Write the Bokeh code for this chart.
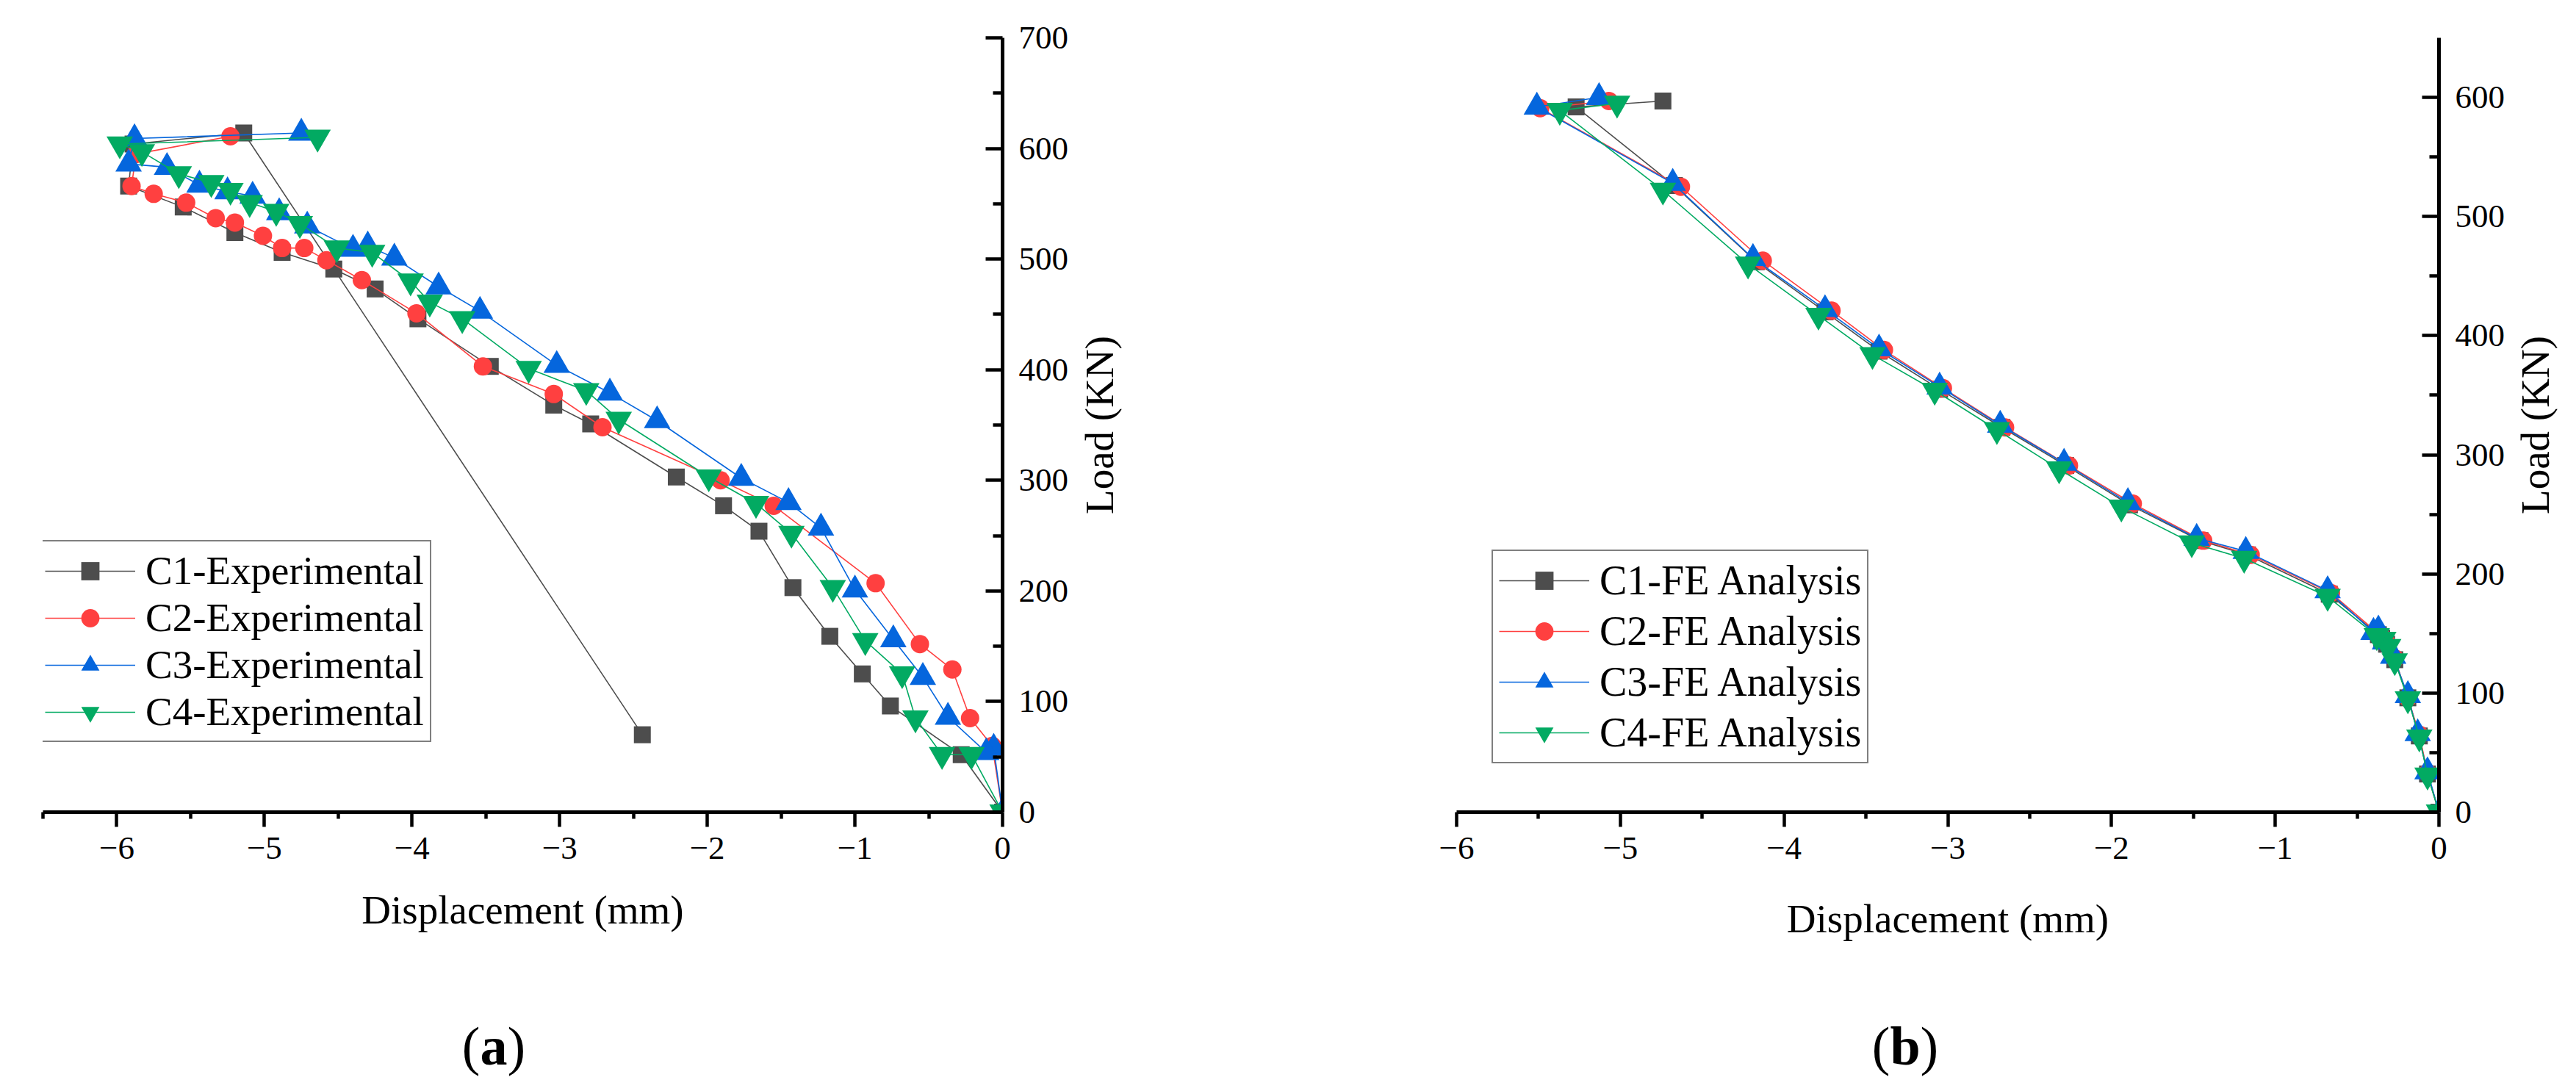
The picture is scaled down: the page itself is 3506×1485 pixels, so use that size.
from bokeh.plotting import figure
from bokeh.models import Range1d, FixedTicker, Legend, LegendItem, Div
from bokeh.layouts import row, column
from bokeh.embed import file_html
from bokeh.resources import INLINE

# ---------------- data ----------------
series_names_exp = ["C1-Experimental", "C2-Experimental", "C3-Experimental", "C4-Experimental"]
series_names_fe = ["C1-FE Analysis", "C2-FE Analysis", "C3-FE Analysis", "C4-FE Analysis"]

exp_c1_x = [0, -0.28, -0.76, -0.95, -1.17, -1.42, -1.65, -1.89, -2.21, -2.79, -3.04, -3.47, -3.96, -4.25,
            -4.53, -4.88, -5.20, -5.55, -5.92, -5.89, -5.14, -2.44]
exp_c1_y = [0, 52, 96, 125, 159, 203, 254, 277, 303, 351, 368, 403, 446, 473, 491, 506, 524, 547, 566, 604, 614, 70]

exp_c2_x = [0, -0.07, -0.22, -0.34, -0.56, -0.86, -1.55, -1.91, -2.71, -3.04, -3.52, -3.97, -4.34, -4.58,
            -4.73, -4.88, -5.01, -5.20, -5.33, -5.53, -5.75, -5.90, -5.87, -5.23]
exp_c2_y = [0, 60, 85, 129, 152, 207, 277, 300, 348, 378, 403, 451, 481, 499, 510, 510, 521, 533, 537, 551,
            559, 566, 595, 611]

exp_c3_x = [0, -0.06, -0.11, -0.37, -0.54, -0.74, -1.00, -1.23, -1.45, -1.77, -2.34, -2.66, -3.02, -3.54,
            -3.82, -4.12, -4.30, -4.40, -4.71, -4.90, -5.08, -5.25, -5.44, -5.66, -5.92, -5.88, -4.75]
exp_c3_y = [0, 58, 54, 86, 122, 156, 201, 257, 280, 302, 354, 379, 404, 453, 475, 501, 512, 509, 530, 542,
            557, 561, 567, 583, 586, 609, 614]

exp_c4_x = [0, -0.21, -0.41, -0.59, -0.68, -0.93, -1.15, -1.43, -1.67, -1.99, -2.60, -2.82, -3.21, -3.66,
            -3.88, -4.01, -4.27, -4.51, -4.76, -4.92, -5.10, -5.23, -5.36, -5.58, -5.83, -5.98, -4.64]
exp_c4_y = [0, 52, 52, 85, 125, 155, 203, 252, 279, 303, 355, 381, 401, 446, 461, 480, 506, 510, 532, 543,
            551, 562, 569, 577, 597, 604, 610]

fe_c1_x = [0, -0.07, -0.12, -0.19, -0.27, -0.32, -0.35, -0.37, -0.67, -1.17, -1.46, -1.89, -2.28, -2.67,
           -3.05, -3.42, -3.75, -4.17, -4.67, -5.27, -4.74]
fe_c1_y = [0, 32, 64, 96, 128, 141, 146, 149, 183, 216, 228, 258, 291, 323, 355, 387, 420, 462, 526, 592, 597]

fe_c2_x = [0, -0.07, -0.12, -0.19, -0.27, -0.32, -0.35, -0.37, -0.66, -1.15, -1.44, -1.87, -2.26, -2.65,
           -3.03, -3.39, -3.71, -4.13, -4.63, -5.49, -5.07]
fe_c2_y = [0, 33, 65, 96, 129, 142, 147, 150, 184, 216, 228, 259, 291, 323, 356, 388, 421, 463, 525, 591, 597]

fe_c3_x = [0, -0.07, -0.13, -0.19, -0.28, -0.33, -0.37, -0.40, -0.68, -1.18, -1.48, -1.90, -2.29, -2.68,
           -3.05, -3.42, -3.75, -4.19, -4.68, -5.51, -5.13]
fe_c3_y = [0, 34, 66, 98, 131, 143, 153, 151, 186, 219, 230, 260, 293, 325, 357, 389, 422, 465, 528, 592, 600]

fe_c4_x = [0, -0.07, -0.12, -0.19, -0.27, -0.31, -0.34, -0.38, -0.68, -1.19, -1.51, -1.94, -2.32, -2.70,
           -3.08, -3.46, -3.79, -4.22, -4.74, -5.37, -5.02]
fe_c4_y = [0, 31, 63, 95, 127, 139, 145, 148, 181, 213, 226, 256, 288, 321, 354, 384, 417, 460, 522, 589, 595]

x_ticks = [-6, -5, -4, -3, -2, -1, 0]
x_tick_labels = ["\u22126", "\u22125", "\u22124", "\u22123", "\u22122", "\u22121", "0"]
x_minor_left = [-6.5, -5.5, -4.5, -3.5, -2.5, -1.5, -0.5]
x_minor_right = [-5.5, -4.5, -3.5, -2.5, -1.5, -0.5]
y_ticks_left = [0, 100, 200, 300, 400, 500, 600, 700]
y_minor_left = [50, 150, 250, 350, 450, 550, 650]
y_ticks_right = [0, 100, 200, 300, 400, 500, 600]
y_minor_right = [50, 150, 250, 350, 450, 550]

x_label = "Displacement (mm)"
y_label = "Load (KN)"
panel_letters = ["a", "b"]

# ---------------- style / layout constants (page pixels; the page body has no margin) ----------------
FONT = "Liberation Serif"
COLORS = ["#4D4D4D", "#FF4040", "#0566DD", "#02AA62"]
MARKERS = ["square", "circle", "triangle", "inverted_triangle"]
SIZES = [23, 25, 36, 36]
PAGE_W = 3500
PAGE_H = 1483
PLOT_BOTTOM = 1370          # page y where the plot row ends and the tag row begins
H_PLOT = PLOT_BOTTOM
H_TAG = PAGE_H - PLOT_BOTTOM
SPLIT = 1753                # page x where the right panel begins


def style_axes(p, xticks, xminor, yticks, yminor, xlabel_standoff):
    xa = p.xaxis[0]
    ya = p.yaxis[0]
    xa.ticker = FixedTicker(ticks=xticks, minor_ticks=xminor)
    xa.major_label_overrides = dict(zip(x_ticks, x_tick_labels))
    ya.ticker = FixedTicker(ticks=yticks, minor_ticks=yminor)
    for ax in (xa, ya):
        ax.axis_line_width = 5
        ax.axis_line_color = "black"
        ax.major_tick_line_width = 4.5
        ax.minor_tick_line_width = 4.5
        ax.major_tick_line_color = "black"
        ax.minor_tick_line_color = "black"
        ax.major_label_text_font = FONT
        ax.major_label_text_font_size = "45px"
        ax.major_label_text_color = "black"
    xa.major_tick_in = 0
    xa.major_tick_out = 20
    xa.minor_tick_in = 0
    xa.minor_tick_out = 9
    xa.major_label_standoff = 14
    xa.axis_label = x_label
    xa.axis_label_text_font = FONT
    xa.axis_label_text_font_style = "normal"
    xa.axis_label_text_font_size = "55px"
    xa.axis_label_text_color = "black"
    xa.axis_label_standoff = xlabel_standoff
    ya.major_tick_in = 23
    ya.major_tick_out = 0
    ya.minor_tick_in = 13
    ya.minor_tick_out = 0
    ya.major_label_standoff = 22
    p.xgrid.visible = False
    p.ygrid.visible = False
    p.outline_line_color = None
    p.background_fill_color = "white"
    p.border_fill_color = "white"


def add_series(p, xs_list, ys_list, names, legend_loc, font_px, spacing):
    items = []
    for i, (xs, ys) in enumerate(zip(xs_list, ys_list)):
        lr = p.line(xs, ys, line_color=COLORS[i], line_width=1.6)
        sr = p.scatter(xs, ys, marker=MARKERS[i], size=SIZES[i], fill_color=COLORS[i],
                       line_color=COLORS[i], line_width=0)
        items.append(LegendItem(label=names[i], renderers=[lr, sr]))
    lg = Legend(items=items, location=legend_loc, orientation="vertical")
    lg.label_text_font = FONT
    lg.label_text_font_size = f"{font_px}px"
    lg.label_text_color = "black"
    lg.glyph_width = 123
    lg.glyph_height = 62
    lg.label_height = 40
    lg.label_standoff = 14
    lg.spacing = spacing
    lg.padding = 8
    lg.margin = 0
    lg.border_line_color = "black"
    lg.border_line_width = 2
    lg.background_fill_color = "white"
    lg.background_fill_alpha = 1.0
    p.add_layout(lg, "center")


def label_strip(page_left, page_right, label_center_x, top_border, bottom_border):
    # narrow figure whose (left) axis carries the rotated "Load (KN)" title, reading upward
    width = page_right - page_left
    frame_left = int(round(label_center_x + 31))
    q = figure(width=width, height=H_PLOT, x_range=Range1d(0, 1), y_range=Range1d(0, 1),
               x_axis_location=None, y_axis_location="left", output_backend="svg",
               toolbar_location=None, min_border_left=frame_left - page_left, min_border_right=2,
               min_border_top=top_border, min_border_bottom=bottom_border)
    ax = q.yaxis[0]
    ax.ticker = FixedTicker(ticks=[])
    ax.axis_line_color = None
    ax.major_tick_line_color = None
    ax.minor_tick_line_color = None
    ax.major_label_text_font_size = "0px"
    ax.major_tick_in = 0
    ax.major_tick_out = 0
    ax.minor_tick_in = 0
    ax.minor_tick_out = 0
    ax.major_label_standoff = 0
    ax.axis_label = y_label
    ax.axis_label_standoff = 0
    ax.axis_label_text_font = FONT
    ax.axis_label_text_font_style = "normal"
    ax.axis_label_text_font_size = "55px"
    ax.axis_label_text_color = "black"
    q.grid.visible = False
    q.outline_line_color = None
    q.background_fill_color = "white"
    q.border_fill_color = "white"
    return q


def tag_div(letter, page_left, page_right, center_x):
    inner_w = int(round(2 * (center_x - page_left)))
    html = (f'<div style="width:{inner_w}px; text-align:center; font-family:\'Liberation Serif\'; '
            f'font-size:74px; line-height:74px; padding-top:17px; color:black;">'
            f'(<b>{letter}</b>)</div>')
    return Div(text=html, width=page_right - page_left, height=H_TAG,
               styles={"margin": "0", "padding": "0"})


# ---------------- left panel ----------------
L_left, L_right, L_top, L_bottom = 58, 1364, 51, 1105
P1_RIGHT = 1462
p1 = figure(width=P1_RIGHT, height=H_PLOT, x_range=Range1d(-6.5, 0), y_range=Range1d(0, 700),
            y_axis_location="right", output_backend="svg", toolbar_location=None,
            min_border_left=L_left, min_border_right=P1_RIGHT - L_right,
            min_border_top=L_top, min_border_bottom=PLOT_BOTTOM - L_bottom)
style_axes(p1, x_ticks, x_minor_left, y_ticks_left, y_minor_left, 36)
add_series(p1, [exp_c1_x, exp_c2_x, exp_c3_x, exp_c4_x], [exp_c1_y, exp_c2_y, exp_c3_y, exp_c4_y],
           series_names_exp, (-7, 95), 55, 1)
q1 = label_strip(P1_RIGHT, SPLIT, 1493, L_top, PLOT_BOTTOM - L_bottom)

# ---------------- right panel ----------------
R_left, R_right, R_top, R_bottom = 1982, 3319, 38, 1114
P2_RIGHT = 3414
p2 = figure(width=P2_RIGHT - SPLIT, height=H_PLOT, x_range=Range1d(-6, 0), y_range=Range1d(0, 650),
            y_axis_location="right", output_backend="svg", toolbar_location=None,
            min_border_left=R_left - SPLIT, min_border_right=P2_RIGHT - R_right,
            min_border_top=R_top, min_border_bottom=PLOT_BOTTOM - R_bottom)
style_axes(p2, x_ticks, x_minor_right, y_ticks_right, y_minor_right, 48)
add_series(p2, [fe_c1_x, fe_c2_x, fe_c3_x, fe_c4_x], [fe_c1_y, fe_c2_y, fe_c3_y, fe_c4_y],
           series_names_fe, (48, 66), 56, 5)
q2 = label_strip(P2_RIGHT, PAGE_W, 3449, R_top, PLOT_BOTTOM - R_bottom)

div_a = tag_div(panel_letters[0], 0, SPLIT, 672)
div_b = tag_div(panel_letters[1], SPLIT, PAGE_W, 2593)

layout = column(row(p1, q1, p2, q2), row(div_a, div_b))
open("out.html", "w").write(file_html(layout, INLINE))
